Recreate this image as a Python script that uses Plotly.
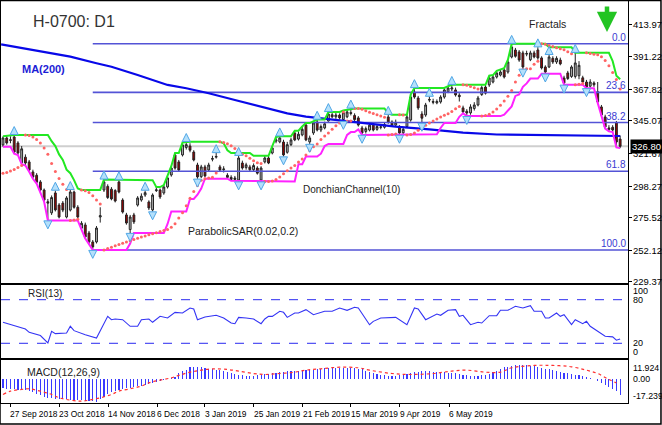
import plotly.graph_objects as go

# ---------------- data ----------------
date_labels = ["27 Sep 2018", "23 Oct 2018", "14 Nov 2018", "6 Dec 2018", "3 Jan 2019",
               "25 Jan 2019", "21 Feb 2019", "15 Mar 2019", "9 Apr 2019", "6 May 2019"]
date_bars = [1.9, 15.0, 28.1, 41.2, 54.0, 67.1, 80.2, 93.0, 106.1, 119.3]

opens = [327.8, 332.8, 331, 333.5, 329.2, 315, 319, 315.6, 308.4, 306,
         301.2, 295.4, 287, 279, 293.3, 284.6, 286, 276, 281, 294,
         283, 268, 270.3, 264.5, 258.1, 258.1, 276, 295.4, 298, 296,
         295, 301.2, 288.2, 277.5, 267, 277.5, 284.6, 288.2, 291.8, 286.8,
         281.1, 295, 295.4, 293.3, 297.6, 306.2, 320.6, 315.6, 320.6, 326,
         327, 322.7, 313.4, 305, 312, 309.8, 317.5, 319, 312, 310,
         306, 304.5, 303, 302.6, 314.8, 311.5, 312, 310, 311.2, 302.6,
         315.6, 318.4, 322, 330.5, 330, 329.9, 322.5, 328, 336.4, 332,
         335, 342.1, 330, 336.4, 344.3, 338.5, 340, 345, 349.5, 348,
         349.3, 346, 348, 351, 349, 347.2, 340, 337.5, 338.5, 342,
         339, 340.5, 340.5, 347.9, 344.3, 342.1, 340.7, 336.5, 341, 345.7,
         365.8, 361.5, 350, 349.3, 360.5, 359, 358, 358.7, 362.2, 366,
         368, 367.3, 363.5, 354.4, 352, 350.8, 354, 356.5, 364, 369.4,
         370.9, 373, 376.6, 378, 381.6, 380.2, 391, 396, 394.6, 393.9,
         393, 389, 393.9, 396, 390.3, 383.8, 383.8, 390, 387.4, 388.8,
         375.9, 379.5, 377, 377, 377.5, 376, 373, 370, 372.3, 366,
         355.1, 347.9, 340, 340.5, 343.6, 332]
highs = [334, 334.5, 334, 335, 330.5, 327, 321, 317, 310, 307.5,
         302.5, 296.5, 289, 291.5, 295, 286, 287.5, 291, 295.5, 295,
         284.5, 273, 272, 266, 259.5, 269.5, 283, 303, 299.5, 297.5,
         296, 302.5, 289.5, 279, 277.5, 279, 291, 293, 295, 288,
         293, 297.5, 296.5, 299, 305.5, 312.5, 322, 317, 329.5, 330,
         329, 324, 315, 313.5, 313.5, 315, 320, 322, 313.5, 312.5,
         307.5, 306, 305.5, 320, 316.5, 315, 313.5, 314.5, 312.5, 312.5,
         320, 320, 327, 333.5, 334, 331.5, 330, 333, 338, 337.5,
         341, 343.5, 334.5, 345, 346, 342.5, 344.5, 351.5, 351, 351,
         350.5, 352.5, 353, 354, 350.5, 348.5, 341.5, 341, 343.5, 343.5,
         342.5, 342.5, 344, 349.5, 345.5, 346, 342, 340.5, 349.5, 364,
         368.7, 363, 352, 358, 362.5, 361, 360.5, 363.5, 368.5, 370,
         371, 369, 365, 356, 353.5, 357, 358.5, 363, 370.5, 371,
         377.5, 378, 381, 382, 383, 389, 400.5, 397.5, 396, 395.5,
         395.5, 395.5, 395.5, 398, 391.5, 385, 392.5, 391.5, 391.5, 390.5,
         377.5, 381, 385, 394, 388, 377.5, 374.5, 375, 373.5, 373,
         356.5, 349.5, 342, 342, 345, 334.5]
lows = [326.5, 328, 329, 321.5, 320.5, 314, 313, 308.5, 303.5, 300,
        294, 287, 273.5, 277.5, 280, 275, 279.5, 275, 280, 282,
        275, 267, 260.5, 256.5, 252.3, 257, 272, 294, 289, 288,
        286.5, 293, 278.5, 270.5, 264.5, 271, 283.5, 287, 290.5, 281,
        280, 294, 289, 292, 296.5, 305, 310, 308.5, 319.5, 324.5,
        322.5, 316, 303.5, 304, 304.5, 308.5, 316, 318, 308.5, 308,
        303.5, 302, 302, 301.5, 310, 310, 309, 309, 306.5, 301.5,
        314.5, 314, 321, 329, 329, 319.5, 321.5, 327, 330.5, 331,
        334, 330.5, 328.5, 335, 337.5, 337, 339, 344.5, 347, 346.5,
        346, 345, 347, 349, 345, 341, 335, 336, 337.5, 337.5,
        338, 339, 339.5, 343, 341, 341, 335, 335.5, 340, 344.5,
        361, 353, 343.6, 348, 358.5, 357, 357, 357.5, 361, 365,
        366.5, 362.5, 359, 350.5, 348.5, 349.5, 352.5, 355.5, 363, 364,
        369.5, 372, 375.5, 377, 375.5, 379, 390, 390.5, 387.5, 382.5,
        391.5, 388, 390, 389, 382, 379, 383, 386, 386, 385,
        371, 374.5, 376, 375.5, 375, 372, 368.5, 369, 369.5, 358,
        348, 339.5, 337.5, 337, 326, 325.5]
closes = [332.8, 329.2, 331.5, 322.7, 322, 325, 314.8, 309.8, 304.8, 301,
          295.4, 288.2, 286, 290, 281.1, 276, 281, 289.7, 294, 283,
          276, 271.5, 261.7, 258.1, 254.5, 268.1, 277, 301.2, 290, 289,
          287.5, 294, 279.6, 271.7, 276, 272.5, 289.7, 291, 293.5, 282.5,
          291.8, 295.5, 290.4, 297.6, 304.1, 311.2, 311.2, 309.8, 327.8, 328,
          324, 317, 304.8, 312, 305.5, 313.4, 318, 319.5, 309.8, 310.5,
          304.5, 303, 304, 318.4, 311.2, 313.5, 310, 313, 307.5, 311.2,
          318.4, 314.8, 325.6, 331.4, 332.8, 320.6, 328, 331.4, 331.4, 335.5,
          339, 331.4, 332.8, 343.6, 338.5, 341, 343, 350, 348, 349.3,
          347.2, 351, 351.5, 350.5, 346, 342.1, 336.4, 339.5, 342, 338.5,
          341, 340.7, 342.5, 344.3, 342.1, 344, 336.4, 339, 347.9, 362.2,
          362.2, 354.4, 347, 356.5, 360.1, 358.5, 359, 362.2, 367.3, 368.7,
          368.7, 363.7, 362.5, 351.5, 350.8, 355.1, 356.5, 361.5, 369, 365,
          375.9, 376.6, 379.5, 380.2, 376.6, 387.4, 398.2, 391.5, 388.8, 383.8,
          393.5, 393.9, 391, 390.3, 383.1, 380.2, 391, 387.4, 390, 386,
          372.3, 375.5, 383.8, 386.7, 385, 373, 369.4, 373, 371, 358.7,
          349.3, 340.7, 339, 338.5, 329.9, 326.8]

ma_bars = [-0.5, 7, 13, 18, 25, 29, 36, 44, 49, 55, 62, 69, 76, 81, 87, 96, 105, 114, 123, 132, 141, 150, 159, 165]
ma_vals = [400.1, 396.5, 393.6, 391.2, 386.5, 384.0, 378.0, 370.9, 368.5, 364.9, 360.1, 355.3,
           350.5, 348.1, 346.4, 343.6, 340.9, 338.9, 336.7, 335.3, 334.9, 334.9, 334.6, 334.2]

sar_start = 307.5  # first visible SAR dot (below price)

rsi_bars = [0, 2, 5, 6, 7, 10, 12, 13, 14, 17, 18, 19, 22, 25, 28, 29, 30, 32, 34, 36, 37, 39, 40, 42, 44,
            46, 48, 50, 51, 52, 54, 57, 59, 61, 62, 63, 65, 67, 69, 70, 71, 72, 74, 75, 76, 78, 79, 81, 83,
            86, 88, 90, 92, 94, 95, 97, 98, 99, 101, 105, 108, 110, 111, 113, 116, 117, 119, 121, 122, 123,
            125, 127, 128, 130, 132, 133, 135, 137, 139, 141, 142, 144, 145, 146, 148, 149, 150, 152, 153,
            155, 156, 157, 161, 163, 164, 165]
rsi_vals = [48.9, 45.6, 41, 39.7, 35.1, 30.6, 20.5, 36.5, 33.3, 34.2, 43.4, 37.4, 31.9, 27.3, 57.1, 52.5,
            53.4, 52.5, 43.4, 43.4, 52.5, 53.4, 48.9, 57.1, 54.8, 62.6, 61.7, 68.6, 67.2, 52.5, 56.2, 58.5,
            54.8, 47.9, 47, 55.7, 54.8, 53.4, 47, 53.4, 57.1, 57.1, 64, 62.6, 55.7, 61.7, 61.7, 66.3, 59.4,
            64, 64, 68.6, 65.4, 69.5, 68.6, 52.5, 45.6, 50.2, 54.8, 55.7, 45.6, 68.6, 67.2, 52.5, 60.3, 58.5,
            65.4, 66.3, 57.1, 58.5, 45.6, 48.9, 47.9, 58, 58, 65.4, 65.4, 70.9, 68.6, 71.8, 64, 64, 54.8,
            54.8, 61.7, 57.1, 59.4, 45.6, 52.5, 47, 50.2, 43.4, 29.7, 28.8, 24.2, 26]

macd_hist = [-9, -9.5, -10, -10, -10.5, -10.5, -11, -11.5,
             -13, -15, -16.5, -18,
             -19, -19.5, -20, -20, -20.5, -20.5,
             -21, -21, -21.5, -21.5, -22, -22, -22.5, -23,
             -20, -18, -15, -13,
             -11.5, -10.5, -9.5, -9, -8.5, -8,
             -7, -6.5, -5.5, -4.5, -3.5, -2.5, -1.5,
             -0.5, 0.5, 1.5, 3,
             6.5, 8.5, 10, 12.5, 13.5, 13.5, 12.5,
             11.5, 11, 10.5, 10, 9.5, 8.5, 7.5, 6.5, 5.5,
             5, 4.5, 4, 4, 4, 4.5, 5, 5.5, 6,
             6.5, 7, 7.5, 8, 8.5, 8.5, 9, 9, 9.5, 9.5, 10, 10, 10.5,
             11, 11.5, 12, 12, 12, 12, 12, 12, 11.5, 11.5, 11, 10.5,
             9, 8, 7, 6, 5, 4.5, 4, 4, 4, 4.5,
             5.5, 6, 7, 7.5, 8, 8.5, 8.5, 8.5, 8, 8, 7.5, 7.5, 7, 7, 6.5,
             6, 5, 4.5, 4, 4, 4, 4.5, 5, 6, 7.5,
             9, 11, 12.5, 13.5, 14.5, 15, 15.5, 15.5, 15, 14.5, 14,
             13, 12, 11, 10.5, 10, 9, 8, 7, 6.5, 6, 5, 4.5,
             3.5, 3, 2, 0.5,
             -1.5, -3.5, -6, -8, -10, -12.5, -16]
sig_bars = [0, 2, 5, 7, 10, 13, 15, 18, 21, 23, 26, 29, 31, 34, 37, 39, 42, 45, 47, 50, 53, 56, 60, 63,
            67, 70, 74, 78, 81, 85, 90, 95, 98, 104, 109, 115, 120, 124, 129, 133, 136, 142, 147, 152,
            156, 159, 162, 164]
sig_vals = [-15.6, -12.2, -10.4, -9.7, -12.2, -15.6, -19.1, -21.5, -22.6, -21.5, -19.1, -15.6, -12.2,
            -9.7, -6.9, -3.5, -0.7, 1.7, 4.2, 7.6, 9.7, 11.1, 10.4, 8.7, 6.2, 5.2, 6.2, 7.6, 9.7, 11.1,
            12.8, 12.2, 9.7, 6.2, 5.2, 6.2, 8.7, 9.7, 7.6, 7.6, 12.2, 14.6, 14.6, 13.2, 9.7, 6.2, 0, -3.5]

price_ticks = [413.97, 391.22, 367.82, 345.07, 321.67, 298.27, 275.52, 252.12, 229.37]
fib_ratios = [0.0, 23.6, 38.2, 61.8, 100.0]
rsi_ticks = [80, 20]
macd_ticks = [11.924, 0.0, -17.239]
macd_tick_text = ["11.924", "0.00", "-17.239"]

# ---------------- derived indicators ----------------
n = len(closes)
bars = list(range(n))

don_up, don_lo = [], []
for i in range(n):
    s = max(0, i - 9)
    don_up.append(max(highs[s:i + 1]))
    don_lo.append(min(lows[s:i + 1]))


def psar(hi, lo, start, step=0.02, amax=0.2):
    out = []
    up = True
    af = step
    ep = hi[0]
    s = start
    for i in range(len(hi)):
        if i > 0:
            s = s + af * (ep - s)
            if up:
                s = min([s, lo[i - 1]] + ([lo[i - 2]] if i > 1 else []))
                if lo[i] < s:
                    up, s, ep, af = False, ep, lo[i], step
                elif hi[i] > ep:
                    ep, af = hi[i], min(af + step, amax)
            else:
                s = max([s, hi[i - 1]] + ([hi[i - 2]] if i > 1 else []))
                if hi[i] > s:
                    up, s, ep, af = True, ep, hi[i], step
                elif lo[i] < ep:
                    ep, af = lo[i], min(af + step, amax)
        out.append(s)
    return out


sar = psar(highs, lows, sar_start)

fr_up_x, fr_up_y, fr_dn_x, fr_dn_y = [], [], [], []
for i in range(2, n - 2):
    if highs[i] > max(highs[i - 2], highs[i - 1], highs[i + 1], highs[i + 2]):
        fr_up_x.append(i)
        fr_up_y.append(highs[i] + 6)
    if lows[i] < min(lows[i - 2], lows[i - 1], lows[i + 1], lows[i + 2]):
        fr_dn_x.append(i)
        fr_dn_y.append(lows[i] - 6)

lo_idx = lows.index(min(lows))
fib_low = lows[lo_idx]
fib_high = max(highs[lo_idx:])
fib_levels = [fib_high - r / 100.0 * (fib_high - fib_low) for r in fib_ratios]

# ---------------- figure ----------------
XR = [-0.53, 167.1]
FONT = "Liberation Sans, Arial, sans-serif"
fig = go.Figure()

for lv in fib_levels:
    fig.add_trace(go.Scatter(x=[lo_idx, XR[1]], y=[lv, lv], mode="lines",
                             line=dict(color="#5353d6", width=1.6), xaxis="x", yaxis="y",
                             hoverinfo="skip"))

fig.add_trace(go.Candlestick(x=bars, open=opens, high=highs, low=lows, close=closes,
                             increasing=dict(line=dict(color="#222222", width=1), fillcolor="#b8b8b8"),
                             decreasing=dict(line=dict(color="#222222", width=1), fillcolor="#a00000"),
                             whiskerwidth=0, xaxis="x", yaxis="y"))

fig.add_trace(go.Scatter(x=ma_bars, y=ma_vals, mode="lines", line=dict(color="#0808e8", width=2.2),
                         xaxis="x", yaxis="y"))
fig.add_trace(go.Scatter(x=bars, y=don_up, mode="lines", line=dict(color="#22e822", width=2),
                         xaxis="x", yaxis="y"))
fig.add_trace(go.Scatter(x=bars, y=don_lo, mode="lines", line=dict(color="#ff22ff", width=2),
                         xaxis="x", yaxis="y"))
fig.add_trace(go.Scatter(x=bars, y=sar, mode="markers",
                         marker=dict(symbol="circle", size=3, color="#ff6464"),
                         xaxis="x", yaxis="y"))
fig.add_trace(go.Scatter(x=fr_up_x, y=fr_up_y, mode="markers",
                         marker=dict(symbol="arrow-up", size=8, color="#b4e0fb",
                                     line=dict(color="#4fa6e6", width=1)),
                         xaxis="x", yaxis="y"))
fig.add_trace(go.Scatter(x=fr_dn_x, y=fr_dn_y, mode="markers",
                         marker=dict(symbol="arrow-down", size=8, color="#b4e0fb",
                                     line=dict(color="#4fa6e6", width=1)),
                         xaxis="x", yaxis="y"))

fig.add_trace(go.Scatter(x=rsi_bars, y=rsi_vals, mode="lines", line=dict(color="#3434f4", width=1.1),
                         xaxis="x2", yaxis="y2"))

fig.add_trace(go.Bar(x=bars, y=macd_hist, width=0.3, marker=dict(color="#3a3aff", line=dict(width=0)),
                     xaxis="x3", yaxis="y3"))
fig.add_trace(go.Scatter(x=sig_bars, y=sig_vals, mode="lines",
                         line=dict(color="#ff3030", width=1.2, dash="dot", shape="spline"),
                         xaxis="x3", yaxis="y3"))

axis_common = dict(showgrid=False, zeroline=False, showline=True, linecolor="black", linewidth=1,
                   mirror=True)

fig.update_layout(
    width=662, height=425,
    margin=dict(l=1, r=34, t=1, b=22),
    paper_bgcolor="white", plot_bgcolor="white",
    showlegend=False, bargap=0, hovermode=False,
    xaxis=dict(domain=[0, 1], range=XR, anchor="y", showticklabels=False, ticks="",
               rangeslider=dict(visible=False), **axis_common),
    xaxis2=dict(domain=[0, 1], range=XR, anchor="y2", showticklabels=False, ticks="", **axis_common),
    xaxis3=dict(domain=[0, 1], range=XR, anchor="y3", showticklabels=False, ticks="outside",
                ticklen=3, tickcolor="black", tickvals=date_bars, **axis_common),
    yaxis=dict(domain=[0.2985, 1.0], range=[228.6, 431.2], side="right", anchor="x",
               tickvals=price_ticks, showticklabels=False,
               ticks="outside", ticklen=3, tickcolor="black", **axis_common),
    yaxis2=dict(domain=[0.112, 0.2935], range=[-0.2, 100.2], side="right", anchor="x2",
                showticklabels=False, ticks="", **axis_common),
    yaxis3=dict(domain=[0.0, 0.107], range=[-24.5, 20.3], side="right", anchor="x3",
                showticklabels=False, ticks="", **axis_common),
)

shapes = []
shapes.append(dict(type="line", xref="paper", yref="y", x0=0, x1=1, y0=closes[-1], y1=closes[-1],
                   line=dict(color="#cfcfcf", width=2), layer="below"))
for lv in rsi_ticks:
    shapes.append(dict(type="line", xref="paper", yref="y2", x0=0, x1=1, y0=lv, y1=lv,
                       line=dict(color="#2a2af0", width=1, dash="dash")))
shapes.append(dict(type="rect", xref="paper", yref="paper", x0=-0.0016, x1=1.0526,
                   y0=-0.0522, y1=1.0012, line=dict(color="black", width=1.5)))
fig.update_layout(shapes=shapes)

ann = []


def txt(x, y, s, size=10, color="#222222", xanchor="left", xref="paper", yref="paper",
        yanchor="middle", family=FONT, **kw):
    ann.append(dict(x=x, y=y, xref=xref, yref=yref, text=s, showarrow=False, xanchor=xanchor,
                    yanchor=yanchor, font=dict(family=family, size=size, color=color),
                    borderpad=0, **kw))


txt(0.0494, 0.9478, "H-0700: D1", size=16, color="#333333")
txt(0.0319, 0.8308, "<b>MA(200)</b>", size=11, color="#1c1cd6")
txt(0.8405, 0.9428, "Fractals", size=10.5)
txt(0.480, 0.5299, "DonchianChannel(10)", size=10)
txt(0.2967, 0.4279, "ParabolicSAR(0.02,0.2)", size=10.5)
txt(0.0415, 0.2736, "RSI(13)", size=10)
txt(0.0399, 0.0771, "MACD(12,26,9)", size=10.5)

for r, lv in zip(fib_ratios, fib_levels):
    txt(0.9985, lv, "%.1f" % r, size=10, color="#3a3ad2", xanchor="right", yref="y",
        yanchor="bottom")

for b, s in zip(date_bars, date_labels):
    txt(b - 0.2, -0.0262, s, size=8.4, color="black", xref="x3")

RX = 1.0064
for v in price_ticks:
    txt(RX, v, "%.2f" % v, size=9.5, color="black", yref="y")
for v, s in zip([92, 80, 20, 8], ["100", "80", "20", "0"]):
    txt(RX, v, s, size=9, color="black", yref="y2")
for v, s in zip(macd_ticks, macd_tick_text):
    txt(RX, v, s, size=8.8, color="black", yref="y3")

ann.append(dict(x=1.0025, y=closes[-1], xref="paper", yref="y", text="%.2f" % closes[-1],
                showarrow=False, xanchor="left", yanchor="middle", bgcolor="black", borderpad=1,
                width=31, align="left",
                font=dict(family=FONT, size=9.5, color="white")))

ann.append(dict(x=0.9665, y=0.9229, xref="paper", yref="paper", text="", showarrow=True,
                ax=0, ay=-27, arrowhead=2, arrowsize=0.9, arrowwidth=4.5, arrowcolor="#22c422",
                standoff=0))
fig.update_layout(annotations=ann)

fig.write_html("out.html", config={"displayModeBar": False, "staticPlot": True},
               post_script="document.body.style.margin='0px';")
